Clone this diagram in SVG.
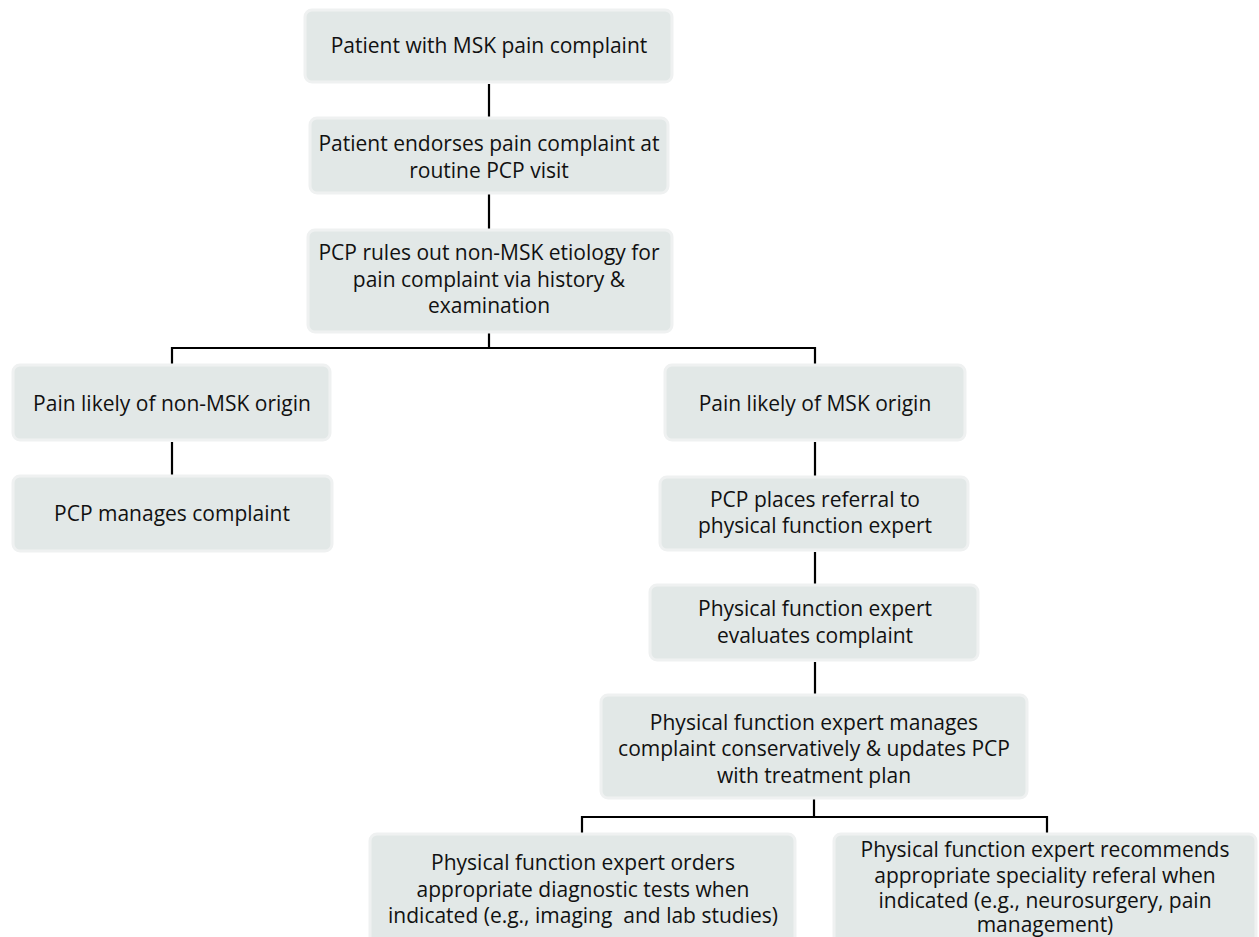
<svg xmlns="http://www.w3.org/2000/svg" width="1259" height="937" viewBox="0 0 1259 937">
<style>
.box{fill:#e2e8e7;stroke:#eff1f1;stroke-width:3}
.t{font-family:"Open Sans","Liberation Sans",sans-serif;font-size:21px;fill:#111;text-anchor:middle;dominant-baseline:central}
.c{stroke:#000;stroke-width:2.2;fill:none}
</style>
<rect width="1259" height="937" fill="#fff"/>
<g id="connectors">
<line class="c" x1="489" y1="84" x2="489" y2="118"/>
<line class="c" x1="489" y1="194" x2="489" y2="230"/>
<polyline class="c" points="489,333 489,348"/>
<polyline class="c" points="172,364 172,348 815,348 815,364"/>
<line class="c" x1="172" y1="442" x2="172" y2="476"/>
<line class="c" x1="815" y1="442" x2="815" y2="477"/>
<line class="c" x1="815" y1="552" x2="815" y2="585"/>
<line class="c" x1="815" y1="662" x2="815" y2="695"/>
<polyline class="c" points="814,799 814,817"/>
<polyline class="c" points="582,833 582,817 1047,817 1047,833"/>
</g>
<g id="n1"><rect class="box" x="305" y="10" width="367" height="72" rx="7"/><text class="t" x="489" y="45">Patient with MSK pain complaint</text></g>
<g id="n2"><rect class="box" x="310" y="118" width="358" height="75" rx="7"/><text class="t" x="489" y="143">Patient endorses pain complaint at</text><text class="t" x="489" y="170">routine PCP visit</text></g>
<g id="n3"><rect class="box" x="308" y="230" width="364" height="102" rx="7"/><text class="t" x="489" y="252">PCP rules out non-MSK etiology for</text><text class="t" x="489" y="279">pain complaint via history &amp;</text><text class="t" x="489" y="305">examination</text></g>
<g id="n4"><rect class="box" x="13" y="365" width="317" height="75" rx="7"/><text class="t" x="172" y="403">Pain likely of non-MSK origin</text></g>
<g id="n5"><rect class="box" x="13" y="476" width="319" height="75" rx="7"/><text class="t" x="172" y="513">PCP manages complaint</text></g>
<g id="n6"><rect class="box" x="665" y="365" width="300" height="75" rx="7"/><text class="t" x="815" y="403">Pain likely of MSK origin</text></g>
<g id="n7"><rect class="box" x="660" y="477" width="308" height="73" rx="7"/><text class="t" x="815" y="499">PCP places referral to</text><text class="t" x="815" y="525">physical function expert</text></g>
<g id="n8"><rect class="box" x="650" y="585" width="328" height="75" rx="7"/><text class="t" x="815" y="608">Physical function expert</text><text class="t" x="815" y="635">evaluates complaint</text></g>
<g id="n9"><rect class="box" x="601" y="695" width="426" height="103" rx="7"/><text class="t" x="814" y="722">Physical function expert manages</text><text class="t" x="814" y="748">complaint conservatively &amp; updates PCP</text><text class="t" x="814" y="775">with treatment plan</text></g>
<g id="n10"><rect class="box" x="370" y="834" width="425" height="110" rx="7"/><text class="t" x="583" y="862">Physical function expert orders</text><text class="t" x="583" y="889">appropriate diagnostic tests when</text><text class="t" x="583" y="915" xml:space="preserve">indicated (e.g., imaging  and lab studies)</text></g>
<g id="n11"><rect class="box" x="834" y="834" width="422" height="110" rx="7"/><text class="t" x="1045" y="849">Physical function expert recommends</text><text class="t" x="1045" y="875">appropriate speciality referal when</text><text class="t" x="1045" y="900">indicated (e.g., neurosurgery, pain</text><text class="t" x="1045" y="924">management)</text></g>
</svg>
